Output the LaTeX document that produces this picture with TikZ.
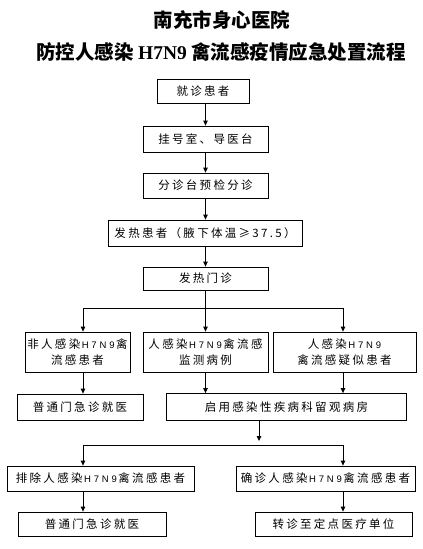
\documentclass[tikz,border=0pt]{standalone}
\usepackage{fontspec}
\setmainfont{Noto Sans CJK SC}
\newfontfamily\cjkbox[LetterSpace=20]{Noto Sans CJK SC}
\newfontfamily\latinserif{Liberation Serif}
\newfontfamily\latbox[LetterSpace=30]{Liberation Sans}
\newcommand{\hsn}{{\hspace{1.5pt}\latbox\fontsize{9.5}{12}\selectfont H7N9\hspace{1.5pt}}}
\usetikzlibrary{arrows.meta}
\begin{document}
\begin{tikzpicture}[x=1pt,y=-1pt,
  box/.style={draw, line width=0.8pt, inner sep=0pt, align=center,
    font=\cjkbox\fontsize{11.5}{16}\selectfont},
  arr/.style={line width=0.8pt, -{Triangle[length=5pt,width=4.5pt]}},
  ln/.style={line width=0.8pt},
  ttl/.style={font=\fontsize{19.5}{22}\selectfont\bfseries}]
\useasboundingbox (0,0) rectangle (423,549);
\fill[white] (0,0) rectangle (423,549);
\node[ttl] (t1) at (222,20) {南充市身心医院};
\node[ttl] (t2) at (221,52) {防控人感染 {\latinserif\bfseries H7N9} 禽流感疫情应急处置流程};

\node[box, minimum width=92, minimum height=24] (b1) at (203,91) {就诊患者};
\node[box, minimum width=125, minimum height=26] (b2) at (205.5,139) {挂号室、导医台};
\node[box, minimum width=125, minimum height=25] (b3) at (205.5,185.5) {分诊台预检分诊};
\node[box, minimum width=194, minimum height=26] (b4) at (205,233) {发热患者（腋下体温≥37.5）};
\node[box, minimum width=125, minimum height=23] (b5) at (205.5,278.5) {发热门诊};
\node[box, minimum width=105, minimum height=40] (b6) at (77.5,352) {非人感染\hsn 禽\\流感患者};
\node[box, minimum width=125, minimum height=40] (b7) at (205.5,352) {人感染\hsn 禽流感\\监测病例};
\node[box, minimum width=143, minimum height=40] (b8) at (344.5,352) {人感染\hsn\\禽流感疑似患者};
\node[box, minimum width=126, minimum height=26] (b9) at (80,407) {普通门急诊就医};
\node[box, minimum width=240, minimum height=27] (b10) at (286.5,407) {启用感染性疾病科留观病房};
\node[box, minimum width=187, minimum height=25] (b11) at (100.5,478.5) {排除人感染\hsn 禽流感患者};
\node[box, minimum width=179, minimum height=25] (b12) at (325.5,478.5) {确诊人感染\hsn 禽流感患者};
\node[box, minimum width=148, minimum height=24] (b13) at (92,524) {普通门急诊就医};
\node[box, minimum width=157, minimum height=24] (b14) at (333.5,524) {转诊至定点医疗单位};

\draw[arr] (b1.south -| b2.north) -- (b2.north);
\draw[arr] (b2.south) -- (b3.north);
\draw[arr] (b3.south) -- (b4.north -| b3.south);
\draw[arr] (b4.south -| b5.north) -- (b5.north);

\coordinate (s1) at (205.5,308);
\coordinate (sL) at (83,308);
\coordinate (sR) at (343,308);
\draw[ln] (b5.south) -- (s1);
\draw[ln] (sL) -- (sR);
\draw[arr] (sL) -- (sL |- b6.north);
\draw[arr] (s1) -- (b7.north);
\draw[arr] (sR) -- (sR |- b8.north);

\draw[arr] (sL |- b6.south) -- (sL |- b9.north);
\draw[arr] (b7.south) -- (b7.south |- b10.north);
\draw[arr] (sR |- b8.south) -- (sR |- b10.north);

\coordinate (j) at (259,445);
\coordinate (jt) at (259,441);
\coordinate (jL) at (83,445);
\coordinate (jR) at (343,445);
\draw[arr] (j |- b10.south) -- (jt);
\draw[ln] (jL) -- (jR);
\draw[arr] (jL) -- (jL |- b11.north);
\draw[arr] (jR) -- (jR |- b12.north);
\draw[arr] (jL |- b11.south) -- (jL |- b13.north);
\draw[arr] (jR |- b12.south) -- (jR |- b14.north);
\end{tikzpicture}
\end{document}
